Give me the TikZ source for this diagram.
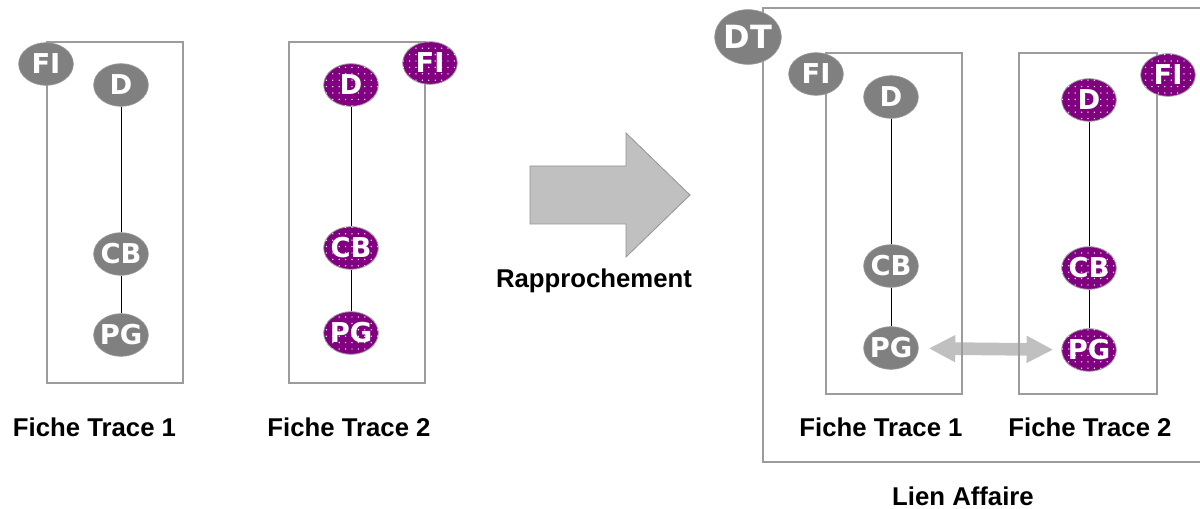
\documentclass[tikz,border=0pt]{standalone}
\usepackage{fontspec}
\setmainfont{Liberation Sans}
\newfontfamily\tagfont{DejaVu Sans}
\usetikzlibrary{shapes.geometric,patterns.meta,arrows.meta}
\definecolor{taggray}{HTML}{808080}
\definecolor{plum}{HTML}{800080}
\definecolor{framegray}{HTML}{9C9C9C}
\definecolor{arrowgray}{HTML}{C0C0C0}
\pgfdeclarelayer{background}
\pgfsetlayers{background,main}
% zero-width label so every tag keeps its fixed ellipse size
\newcommand\tagtxt[1]{\makebox[0pt][c]{#1}}

\begin{document}
\begin{tikzpicture}[x=0.75pt,y=-0.75pt,
  frame/.style={draw=framegray, line width=0.9pt},
  tag/.style={ellipse, inner sep=0pt, minimum width=41pt, minimum height=32pt,
    font=\tagfont\bfseries\fontsize{20.5}{20.5}\selectfont, text=white},
  greytag/.style={tag, fill=taggray, draw=taggray!80, line width=0.5pt},
  plumtag/.style={tag, fill=plum, draw=gray!75, line width=0.6pt,
    postaction={pattern={Dots[radius=0.55pt,distance=4.8pt]}, pattern color=white}},
  link/.style={draw=black, line width=0.75pt},
  caption/.style={anchor=base, font=\bfseries\fontsize{19.3}{23}\selectfont}
]
\useasboundingbox (0,0) rectangle (1200,509);
\clip (0,0) rectangle (1200,509);

% ---------- Fiche Trace 1 (alone) ----------
\draw[frame] (47,42) rectangle (183,383);
\node[greytag] (fiA) at (46,64) {\tagtxt{FI}};
\node[greytag] (dA)  at (121,85) {\tagtxt{D}};
\node[greytag] (cbA) at (121,254) {\tagtxt{CB}};
\node[greytag] (pgA) at (121,335) {\tagtxt{PG}};
\draw[link] (dA) -- (cbA);
\draw[link] (cbA) -- (pgA);
\node[caption] (capA) at (94.5,437) {Fiche Trace 1};

% ---------- Fiche Trace 2 (alone) ----------
\draw[frame] (289,42) rectangle (425,383);
\node[plumtag] (fiB) at (430,63) {\tagtxt{FI}};
\node[plumtag] (dB)  at (351,85) {\tagtxt{D}};
\node[plumtag] (cbB) at (351,248) {\tagtxt{CB}};
\node[plumtag] (pgB) at (351,333) {\tagtxt{PG}};
\draw[link] (dB) -- (cbB);
\draw[link] (cbB) -- (pgB);
\node[caption] (capB) at (349,437) {Fiche Trace 2};

% ---------- block arrow ----------
\draw[fill=arrowgray, draw=gray!85, line width=0.6pt]
  (530,166) -- (626,166) -- (626,133) -- (690,195) -- (626,257)
  -- (626,224) -- (530,224) -- cycle;
\node[caption] (rap) at (594,288) {Rapprochement};

% ---------- Lien Affaire ----------
\draw[frame] (763,8) rectangle (1215,462);
\node[greytag, minimum width=50pt, minimum height=41pt,
  font=\tagfont\bfseries\fontsize{24}{24}\selectfont] (dt) at (748,37) {\tagtxt{DT}};

\draw[frame] (826,53) rectangle (962,394);
\node[greytag] (fiC) at (816,74) {\tagtxt{FI}};
\node[greytag] (dC)  at (891,97) {\tagtxt{D}};
\node[greytag] (cbC) at (891,266) {\tagtxt{CB}};
\node[greytag] (pgC) at (891,348) {\tagtxt{PG}};
\draw[link] (dC) -- (cbC);
\draw[link] (cbC) -- (pgC);
\node[caption] (capC) at (881,437) {Fiche Trace 1};

\draw[frame] (1019,53) rectangle (1157,394);
\node[plumtag] (fiD) at (1168,75) {\tagtxt{FI}};
\node[plumtag] (dD)  at (1089,100) {\tagtxt{D}};
\node[plumtag] (cbD) at (1089,268) {\tagtxt{CB}};
\node[plumtag] (pgD) at (1089,350) {\tagtxt{PG}};
\draw[link] (dD) -- (cbD);
\draw[link] (cbD) -- (pgD);
\node[caption] (capD) at (1090,437) {Fiche Trace 2};

\node[caption] (lien) at (963,505) {Lien Affaire};

% two-way link between the PG tags, under the frames
\begin{pgfonlayer}{background}
\draw[arrowgray, line width=9.5pt,
  {Triangle[width=19pt,length=20pt]}-{Triangle[width=19pt,length=20pt]},
  shorten <=7.5pt, shorten >=6pt] (pgC) -- (pgD);
\end{pgfonlayer}
\end{tikzpicture}
\end{document}
